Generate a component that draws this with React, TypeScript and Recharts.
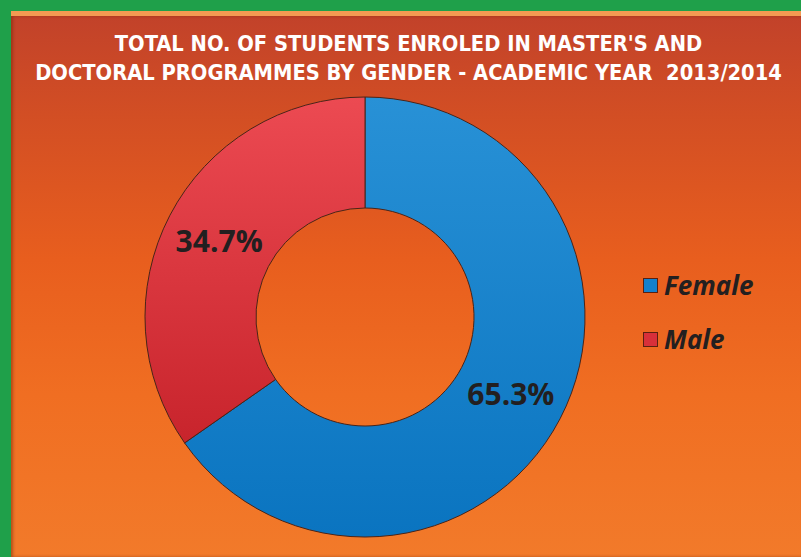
import { PieChart, Pie, Cell, Legend } from 'recharts'

const genders = ['Female', 'Male']
const shares = [65.3, 34.7]
const sliceFills = ['url(#gradFemale)', 'url(#gradMale)']
const legendColors = ['#1580cc', '#d8303a']

const data = genders.map((g, i) => ({ name: g, value: shares[i] }))

const RAD = Math.PI / 180

function renderLabel(props: any) {
  const { cx, cy, midAngle, innerRadius, outerRadius, value } = props
  const r = (innerRadius + outerRadius) / 2
  const x = cx + r * Math.cos(-midAngle * RAD)
  const y = cy + r * Math.sin(-midAngle * RAD)
  return (
    <text x={x} y={y} textAnchor="middle" dominantBaseline="central"
      fill="#231f20" fontFamily="'Open Sans', sans-serif" fontWeight={700} fontSize={30}>
      {value.toFixed(1)}%
    </text>
  )
}

function renderLegend() {
  return (
    <div>
      {genders.map((g, i) => (
        <div key={g} style={{ display: 'flex', alignItems: 'center', height: 54 }}>
          <div style={{
            width: 15, height: 15, marginRight: 6,
            background: `linear-gradient(${legendColors[i]}, ${legendColors[i]})`,
            border: '1px solid #5a2010', boxSizing: 'border-box'
          }} />
          <span style={{
            fontFamily: "'Open Sans', sans-serif", fontStyle: 'italic', fontWeight: 700,
            fontSize: 26, color: '#231f20'
          }}>{g}</span>
        </div>
      ))}
    </div>
  )
}

export default function App() {
  return (
    <div style={{ position: 'absolute', left: 0, top: 0, width: 801, height: 557, background: '#1fa04a', overflow: 'hidden' }}>
      <div style={{
        position: 'absolute', left: 11, top: 11, width: 790, height: 546,
        background: 'linear-gradient(180deg, #c2422a 0%, #d24e24 18%, #e85e1e 45%, #f06e22 70%, #f27a2a 100%)',
        borderTop: '5px solid #f49a52', boxSizing: 'border-box',
        boxShadow: 'inset 2px 0 3px rgba(120,40,10,0.5)'
      }} />
      <div style={{
        position: 'absolute', left: 8, top: 29, width: 801, textAlign: 'center', color: '#ffffff',
        fontFamily: "'Liberation Sans Narrow', 'DejaVu Sans Condensed', sans-serif", fontWeight: 700,
        fontSize: 21.7, lineHeight: '29px', whiteSpace: 'pre'
      }}>
        {"TOTAL NO. OF STUDENTS ENROLED IN MASTER'S AND\nDOCTORAL PROGRAMMES BY GENDER - ACADEMIC YEAR  2013/2014"}
      </div>
      <div style={{ position: 'absolute', left: 0, top: 0 }}>
        <PieChart width={801} height={557} margin={{ top: 0, right: 0, bottom: 0, left: 0 }}>
          <defs>
            <linearGradient id="gradFemale" x1="0" y1="0" x2="0" y2="1">
              <stop offset="0%" stopColor="#2891d6" />
              <stop offset="100%" stopColor="#0a74c0" />
            </linearGradient>
            <linearGradient id="gradMale" x1="0" y1="0" x2="0" y2="1">
              <stop offset="0%" stopColor="#ec4a52" />
              <stop offset="100%" stopColor="#c8242c" />
            </linearGradient>
          </defs>
          <Pie data={data} dataKey="value" nameKey="name" cx={365} cy={317}
            innerRadius={109} outerRadius={220} startAngle={90} endAngle={-270}
            stroke="#4a2418" strokeWidth={1} label={renderLabel} labelLine={false}
            isAnimationActive={false}>
            {data.map((d, i) => <Cell key={d.name} fill={sliceFills[i]} />)}
          </Pie>
          <Legend content={renderLegend} layout="vertical"
            wrapperStyle={{ left: 643, top: 258, width: 150 }} />
        </PieChart>
      </div>
    </div>
  )
}
